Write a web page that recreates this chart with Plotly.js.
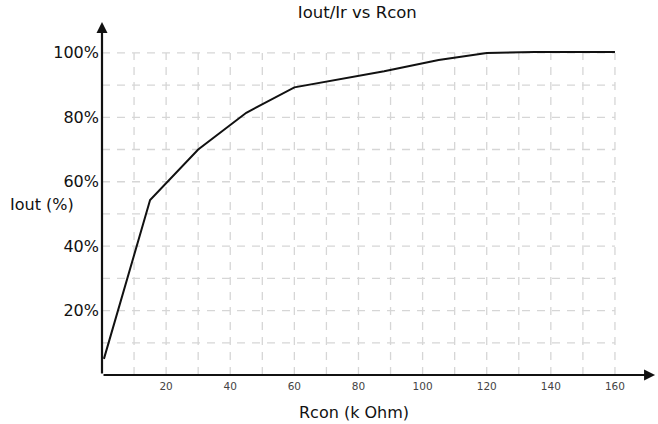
<!DOCTYPE html>
<html><head><meta charset="utf-8">
<script src="https://cdn.plot.ly/plotly-3.0.1.min.js"></script>
<style>html,body{margin:0;padding:0;background:#fff}#chart{width:658px;height:424px}</style>
</head><body><div id="chart"></div>
<script>
// Data
const rcon = [0.6, 15, 30, 45, 60, 88, 105, 120, 135, 160];
const iout = [5, 54.3, 70, 81.4, 89.3, 94.3, 97.8, 100, 100.3, 100.3];
const xTicks = [20, 40, 60, 80, 100, 120, 140, 160];
const yTicks = [20, 40, 60, 80, 100];
const yTickText = ['20%', '40%', '60%', '80%', '100%'];
const gridX = [10,20,30,40,50,60,70,80,90,100,110,120,130,140,150,160];
const gridY = [10,20,30,40,50,60,70,80,90,100];

const XMAX = 172.8, YMAX = 109.9;
const shapes = [];
const gridLine = {color: '#d6d6d6', width: 1.3, dash: '8px,7px'};
gridX.forEach(v => shapes.push({type:'line', xref:'x', yref:'y', x0:v, x1:v, y0:0, y1:100, line:gridLine, layer:'below'}));
gridY.forEach(v => shapes.push({type:'line', xref:'x', yref:'y', x0:0, x1:160, y0:v, y1:v, line:gridLine, layer:'below'}));

const font = "DejaVu Sans, Verdana, sans-serif";
const data = [{
  x: rcon, y: iout, type: 'scatter', mode: 'lines',
  line: {color: '#111', width: 2}, hoverinfo: 'none', cliponaxis: false
}];
const layout = {
  width: 658, height: 424,
  margin: {l: 102, r: 2, t: 21, b: 49},
  paper_bgcolor: '#fff', plot_bgcolor: '#fff',
  showlegend: false,
  title: {text: 'Iout/Ir vs Rcon', font: {family: font, size: 16.5, color: '#111'}, x: 0.543, xanchor: 'center', y: 0.972, yanchor: 'middle'},
  xaxis: {range: [0, XMAX], showgrid: false, zeroline: false, showline: false,
    tickmode: 'array', tickvals: xTicks, ticktext: xTicks.map(String),
    tickfont: {family: font, size: 10.5, color: '#444'}, ticks: '', ticklabelstandoff: 3},
  yaxis: {range: [0, YMAX], showgrid: false, zeroline: false, showline: false,
    tickmode: 'array', tickvals: yTicks, ticktext: yTickText,
    tickfont: {family: font, size: 16, color: '#111'}, ticks: '', ticklabelstandoff: 2},
  shapes: shapes,
  annotations: [
    {xref:'x', yref:'y', axref:'x', ayref:'y', x: XMAX - 0.3, y: 0, ax: 0, ay: 0, text: '', showarrow: true,
     arrowhead: 2, arrowsize: 1, arrowwidth: 2.2, arrowcolor: '#111'},
    {xref:'x', yref:'y', axref:'x', ayref:'y', x: 0, y: YMAX - 0.3, ax: 0, ay: 0, text: '', showarrow: true,
     arrowhead: 2, arrowsize: 1, arrowwidth: 2.2, arrowcolor: '#111'},
    {xref:'paper', yref:'paper', x: -0.108, y: 0.482, xanchor: 'center', yanchor: 'middle', showarrow: false,
     text: 'Iout (%)', font: {family: font, size: 16, color: '#111'}},
    {xref:'paper', yref:'paper', x: 0.455, y: -0.105, xanchor: 'center', yanchor: 'middle', showarrow: false,
     text: 'Rcon (k Ohm)', font: {family: font, size: 16, color: '#111'}}
  ]
};
Plotly.newPlot('chart', data, layout, {staticPlot: true, displayModeBar: false});
</script></body></html>
